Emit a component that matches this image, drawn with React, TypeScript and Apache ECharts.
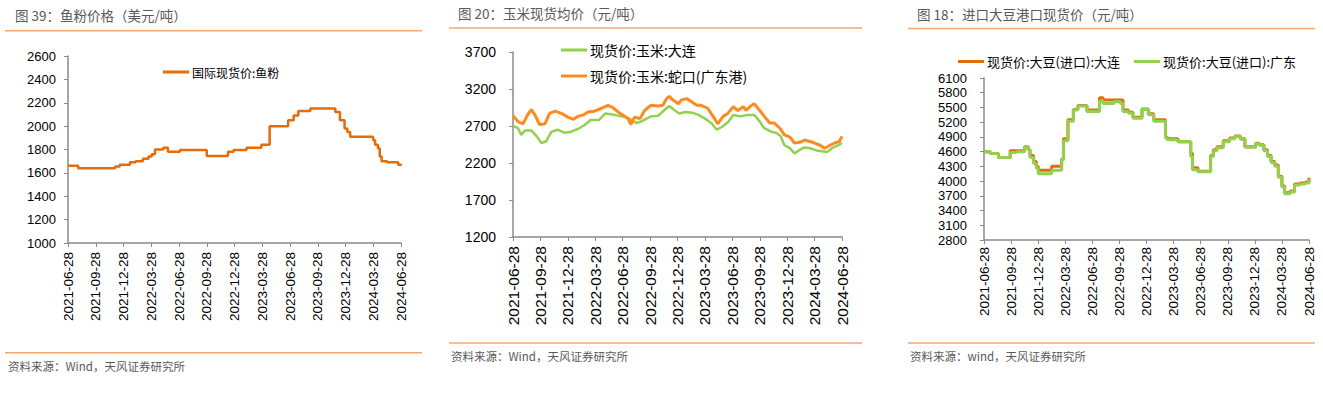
import React, { useEffect, useRef } from "react";
import * as echarts from "echarts";

// x-axis: months since 2021-06-28 (0..36)
const dateTicks = [
  "2021-06-28", "2021-09-28", "2021-12-28", "2022-03-28", "2022-06-28", "2022-09-28", "2022-12-28",
  "2023-03-28", "2023-06-28", "2023-09-28", "2023-12-28", "2024-03-28", "2024-06-28",
];

// Chart 1: fish meal (USD/t), step series [month, value]
const fishName = "国际现货价:鱼粉";
const fishMeal: [number, number][] = [
  [0, 1660], [1.1, 1640], [5.1, 1655], [5.6, 1670], [6.7, 1690], [7.3, 1700], [8.1, 1720], [8.7, 1740],
  [9.05, 1760], [9.4, 1800], [10.3, 1815], [10.8, 1780], [12.1, 1795], [15.0, 1745], [17.3, 1780],
  [17.9, 1795], [19.3, 1815], [20.9, 1840], [21.8, 2000], [23.8, 2050], [24.4, 2090], [24.9, 2130],
  [26.2, 2150], [28.9, 2120], [29.4, 2050], [29.9, 1980], [30.2, 1950], [30.5, 1910], [33.0, 1880],
  [33.2, 1840], [33.5, 1810], [33.7, 1740], [33.9, 1700], [34.5, 1690], [35.7, 1670], [36, 1660],
];
const fishYTicks = [1000, 1200, 1400, 1600, 1800, 2000, 2200, 2400, 2600];

// Chart 2: corn spot prices (CNY/t)
const cornDalianName = "现货价:玉米:大连";
const cornShekouName = "现货价:玉米:蛇口(广东港)";
const cornDalian: [number, number][] = [
  [0, 2700], [0.55, 2670], [0.9, 2580], [1.3, 2640], [2.0, 2640], [2.6, 2560], [3.1, 2470], [3.6, 2490],
  [4.2, 2620], [4.9, 2650], [5.6, 2610], [6.3, 2620], [7.1, 2660], [7.8, 2710], [8.5, 2780], [9.4, 2780],
  [10.1, 2870], [10.7, 2860], [11.5, 2840], [12.2, 2820], [12.9, 2790], [13.5, 2740], [14.0, 2760],
  [14.6, 2800], [15.1, 2830], [15.9, 2840], [16.6, 2920], [17.1, 2970], [17.6, 2920], [18.2, 2870],
  [18.9, 2890], [19.6, 2880], [20.3, 2850], [21.0, 2800], [21.7, 2740], [22.3, 2650], [22.9, 2690],
  [23.6, 2760], [24.1, 2850], [24.9, 2830], [25.6, 2850], [26.4, 2850], [27.0, 2760], [27.5, 2670],
  [28.3, 2620], [28.8, 2610], [29.3, 2560], [29.7, 2440], [30.3, 2400], [30.8, 2330], [31.4, 2380],
  [31.9, 2410], [32.5, 2400], [33.2, 2370], [33.8, 2360], [34.4, 2350], [34.9, 2400], [35.6, 2440], [36, 2470],
];
const cornShekou: [number, number][] = [
  [0, 2840], [0.55, 2760], [1.1, 2730], [1.6, 2850], [2.0, 2920], [2.4, 2850], [2.9, 2720], [3.5, 2730],
  [4.0, 2870], [4.6, 2900], [5.3, 2870], [6.0, 2820], [6.6, 2790], [7.1, 2830], [7.7, 2850], [8.2, 2890],
  [8.9, 2900], [9.7, 2940], [10.4, 2980], [10.9, 2950], [11.5, 2890], [12.0, 2850], [12.6, 2800],
  [12.9, 2720], [13.3, 2820], [13.9, 2800], [14.4, 2910], [15.1, 2980], [15.9, 2970], [16.4, 2980],
  [16.8, 3070], [17.1, 3100], [17.5, 3050], [18.1, 3000], [18.4, 3050], [19.0, 3070], [19.5, 3030],
  [20.1, 2980], [20.6, 2980], [21.3, 2940], [21.9, 2830], [22.4, 2730], [23.0, 2830], [23.5, 2870],
  [24.1, 2960], [24.6, 2910], [25.2, 2960], [25.5, 2910], [26.1, 2980], [26.4, 3000], [27.0, 2910],
  [27.5, 2830], [28.1, 2740], [28.6, 2740], [29.2, 2670], [29.7, 2580], [30.3, 2550], [30.8, 2470],
  [31.4, 2480], [31.9, 2510], [32.5, 2490], [33.0, 2470], [33.6, 2440], [34.1, 2400], [34.7, 2440],
  [35.2, 2470], [35.7, 2490], [36, 2560],
];
const cornYTicks = [1200, 1700, 2200, 2700, 3200, 3700];

// Chart 3: imported soybean port spot prices (CNY/t), step series
const soyDalianName = "现货价:大豆(进口):大连";
const soyGuangdongName = "现货价:大豆(进口):广东";
const soyDalian: [number, number][] = [
  [0, 4600], [0.7, 4560], [1.6, 4480], [2.9, 4620], [4.5, 4700], [4.9, 4640], [5.1, 4520], [5.5, 4400],
  [5.8, 4300], [6.0, 4220], [7.5, 4300], [8.6, 4450], [8.8, 4860], [9.3, 5250], [9.9, 5460], [10.4, 5540],
  [11.4, 5450], [12.8, 5700], [13.2, 5650], [15.4, 5450], [16.0, 5400], [16.5, 5300], [17.5, 5470],
  [18.2, 5370], [18.8, 5250], [20.1, 4900], [20.3, 4860], [21.5, 4800], [22.9, 4560], [23.1, 4270],
  [23.7, 4200], [25.1, 4520], [25.4, 4640], [25.8, 4700], [26.5, 4820], [27.2, 4880], [27.8, 4920],
  [28.4, 4860], [28.9, 4700], [30.1, 4770], [30.5, 4740], [31.0, 4640], [31.4, 4520], [31.8, 4400],
  [32.2, 4330], [32.6, 4100], [33.0, 3900], [33.3, 3760], [33.9, 3800], [34.4, 3940], [35.0, 3960],
  [35.6, 3980], [36, 4070],
];
const soyGuangdong: [number, number][] = [
  [0, 4600], [0.7, 4560], [1.6, 4480], [2.9, 4580], [3.6, 4600], [4.5, 4690], [4.9, 4640], [5.1, 4480],
  [5.5, 4360], [5.8, 4260], [6.0, 4150], [7.5, 4220], [8.6, 4430], [8.8, 4820], [9.3, 5220], [9.9, 5450],
  [10.4, 5530], [11.4, 5420], [12.8, 5630], [13.2, 5580], [14.4, 5620], [15.1, 5580], [15.4, 5420],
  [16.0, 5380], [16.5, 5280], [17.5, 5460], [18.2, 5350], [18.8, 5220], [20.1, 4880], [20.3, 4840],
  [21.5, 4800], [22.9, 4500], [23.1, 4230], [23.7, 4190], [25.1, 4500], [25.4, 4620], [25.8, 4680],
  [26.5, 4800], [27.2, 4860], [27.8, 4910], [28.4, 4850], [28.9, 4690], [30.1, 4760], [30.5, 4730],
  [31.0, 4620], [31.4, 4500], [31.8, 4380], [32.2, 4300], [32.6, 4080], [33.0, 3880], [33.3, 3740],
  [33.9, 3780], [34.4, 3920], [35.0, 3940], [35.6, 3960], [36, 4050],
];
const soyYTicks = [2800, 3100, 3400, 3700, 4000, 4300, 4600, 4900, 5200, 5500, 5800, 6100];

const titles = ["图 39：鱼粉价格（美元/吨）", "图 20：玉米现货均价（元/吨）", "图 18：进口大豆港口现货价（元/吨）"];
const sources = ["资料来源：Wind，天风证券研究所", "资料来源：Wind，天风证券研究所", "资料来源：wind，天风证券研究所"];

const FONT = "'Liberation Sans', Arial, 'Noto Sans CJK SC', sans-serif";
const CJK = "'Noto Sans CJK SC', 'Liberation Sans', sans-serif";
const AXIS = "#8a8a8a";
const DEEP_ORANGE = "#E46C0A";
const ORANGE = "#FF8A1E";
const GREEN = "#92D050";
const RULE = "#F6A66E";
const GREY_TEXT = "#595959";

function xAxis(gridIndex: number, fontSize: number, margin: number) {
  return {
    type: "value", gridIndex, min: 0, max: 36, interval: 3,
    axisLine: { show: true, lineStyle: { color: AXIS, width: 1.5 } },
    axisTick: { show: true, length: 4, lineStyle: { color: AXIS } },
    splitLine: { show: false },
    axisLabel: {
      rotate: 90, margin, color: "#000", fontSize, fontFamily: FONT,
      formatter: (v: number) => dateTicks[Math.round(v / 3)] ?? "",
    },
  };
}

function yAxis(gridIndex: number, ticks: number[], fontSize: number, margin: number) {
  return {
    type: "value", gridIndex, min: ticks[0], max: ticks[ticks.length - 1],
    axisLine: { show: true, lineStyle: { color: AXIS, width: 1.5 } },
    axisTick: { show: true, length: 4, customValues: ticks, lineStyle: { color: AXIS } },
    splitLine: { show: false },
    axisLabel: {
      customValues: ticks, margin, color: "#000", fontSize, fontFamily: FONT,
      formatter: (v: number) => String(Math.round(v)),
    },
  };
}

function headerFooter(x0: number, x1: number, titleX: number, titleY: number, ruleTop: number, ruleBottom: number, srcX: number, srcY: number, title: string, src: string) {
  return [
    { type: "text", left: titleX, top: titleY - 9, style: { text: title, fill: GREY_TEXT, font: `13.5px ${CJK}` } },
    { type: "rect", shape: { x: x0, y: ruleTop - 0.75, width: x1 - x0, height: 1.5 }, style: { fill: RULE } },
    { type: "rect", shape: { x: x0, y: ruleBottom - 0.75, width: x1 - x0, height: 1.5 }, style: { fill: RULE } },
    { type: "text", left: srcX, top: srcY - 7, style: { text: src, fill: GREY_TEXT, font: `11.5px ${CJK}` } },
  ];
}

export default function App() {
  const ref = useRef<HTMLDivElement>(null);
  useEffect(() => {
    if (!ref.current) return;
    const chart = echarts.init(ref.current, null, { renderer: "svg" });
    const legendBase = { icon: "rect", itemHeight: 3, itemWidth: 26, itemGap: 12, textStyle: { color: "#000", fontFamily: CJK, padding: [0, 0, 0, -2] } };
    chart.setOption({
      animation: false,
      backgroundColor: "#fff",
      grid: [
        { left: 68, top: 56, width: 333, height: 187 },
        { left: 513, top: 52, width: 329, height: 185 },
        { left: 984, top: 78, width: 325, height: 162 },
      ],
      xAxis: [xAxis(0, 13.5, 9), xAxis(1, 15.5, 9), xAxis(2, 13.5, 7)],
      yAxis: [yAxis(0, fishYTicks, 13, 12), yAxis(1, cornYTicks, 14, 17), yAxis(2, soyYTicks, 13, 17)],
      legend: [
        { ...legendBase, data: [fishName], left: 158, top: 61, textStyle: { ...legendBase.textStyle, fontSize: 12 } },
        { ...legendBase, data: [cornDalianName, cornShekouName], orient: "vertical", left: 556, top: 38, itemGap: 12, textStyle: { ...legendBase.textStyle, fontSize: 14 } },
        { ...legendBase, data: [soyDalianName, soyGuangdongName], left: 953, top: 50, itemGap: 14, textStyle: { ...legendBase.textStyle, fontSize: 13 } },
      ],
      series: [
        { name: fishName, type: "line", xAxisIndex: 0, yAxisIndex: 0, step: "end", data: fishMeal, showSymbol: false, color: DEEP_ORANGE, lineStyle: { width: 2.5, color: DEEP_ORANGE } },
        { name: cornDalianName, type: "line", xAxisIndex: 1, yAxisIndex: 1, data: cornDalian, showSymbol: false, color: GREEN, lineStyle: { width: 2.5, color: GREEN } },
        { name: cornShekouName, type: "line", xAxisIndex: 1, yAxisIndex: 1, data: cornShekou, showSymbol: false, color: ORANGE, lineStyle: { width: 3, color: ORANGE } },
        { name: soyDalianName, type: "line", xAxisIndex: 2, yAxisIndex: 2, step: "end", data: soyDalian, showSymbol: false, color: DEEP_ORANGE, lineStyle: { width: 3, color: DEEP_ORANGE } },
        { name: soyGuangdongName, type: "line", xAxisIndex: 2, yAxisIndex: 2, step: "end", data: soyGuangdong, showSymbol: false, color: GREEN, lineStyle: { width: 3, color: GREEN } },
      ],
      graphic: [
        ...headerFooter(5, 422, 15, 17, 30.7, 352.7, 8, 367, titles[0], sources[0]),
        ...headerFooter(449, 862, 458, 15, 28, 343, 451, 357, titles[1], sources[1]),
        ...headerFooter(908, 1315, 917, 16, 28.5, 343, 910, 357, titles[2], sources[2]),
      ],
    });
    return () => chart.dispose();
  }, []);
  return <div ref={ref} style={{ position: "absolute", left: 0, top: 0, width: 1323, height: 397 }} />;
}
